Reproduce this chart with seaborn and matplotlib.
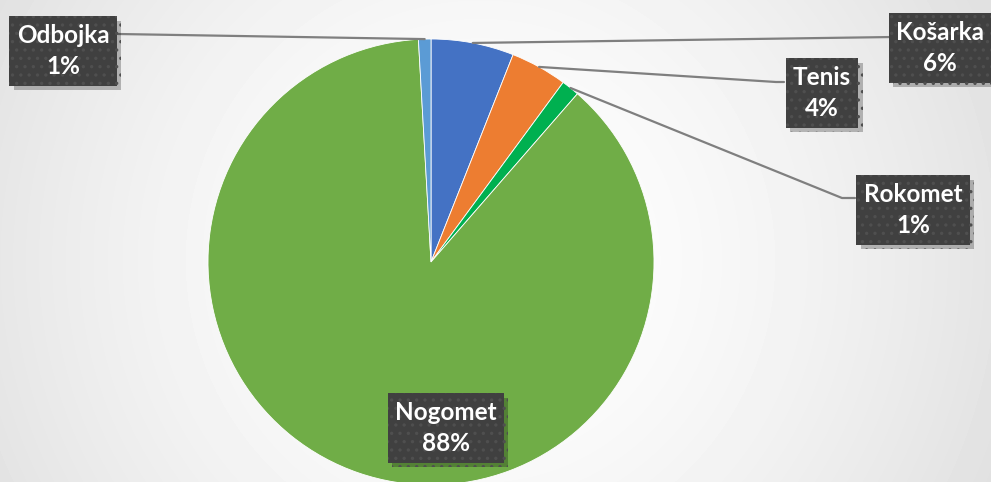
import numpy as np
import matplotlib.pyplot as plt
import matplotlib.patheffects as pe
import seaborn as sns

# data (share of respondents, %)
sports = ["Košarka", "Tenis", "Rokomet", "Nogomet", "Odbojka"]
shares = [6.0, 4.1, 1.3, 87.7, 0.9]
colors = ["#4472C4", "#ED7D31", "#00B050", "#70AD47", "#5B9BD5"]

# layout in pixels (figure is 991x482)
W, H = 991, 482
CX, CY, R = 431, 262, 223
label_pos = {"Košarka": (940, 48), "Tenis": (822, 93), "Rokomet": (913, 210),
             "Nogomet": (446, 428), "Odbojka": (63, 51)}
# leader lines: elbow point, end point at the label box
leader = {"Košarka": [(893, 37)],
          "Tenis": [(776, 82), (784, 82)],
          "Rokomet": [(842, 198), (855, 198)],
          "Odbojka": [(118, 34)]}


def px(x, y):
    return (x - CX) / R, (CY - y) / R


sns.set_theme(style="white")
plt.rcParams['font.family'] = ['Lato', 'DejaVu Sans']
plt.rcParams['hatch.linewidth'] = 1.2

fig = plt.figure(figsize=(W / 100, H / 100), dpi=100)

# soft radial background
bg = fig.add_axes([0, 0, 1, 1])
bg.axis('off')
yy, xx = np.mgrid[0:H, 0:W]
rr = np.clip(np.hypot(xx - 480, yy - 260) / 560, 0, 1)
bg.imshow(1 - 0.12 * rr ** 1.6, cmap='gray', vmin=0, vmax=1,
          extent=[0, W, H, 0], aspect='auto', interpolation='bilinear')
bg.set_xlim(0, W)
bg.set_ylim(H, 0)

ax = fig.add_axes([0, 0, 1, 1])
ax.patch.set_alpha(0)
wedges, _ = ax.pie(shares, colors=colors, startangle=90, counterclock=False,
                   radius=1, wedgeprops=dict(linewidth=0.6, edgecolor='white'))
ax.set_aspect('auto')
ax.set_xlim(-CX / R, (W - CX) / R)
ax.set_ylim(-(H - CY) / R, CY / R)
ax.axis('off')

box = dict(boxstyle='square,pad=0.3', facecolor='#404040', edgecolor='#4f4f4f',
           linewidth=0, hatch='..')

for w, name, share in zip(wedges, sports, shares):
    lx, ly = px(*label_pos[name])
    t = ax.text(lx, ly, f"{name}\n{share:.0f}%", ha='center', va='center',
                color='white', fontsize=17.5, fontweight='bold', bbox=box,
                linespacing=1.45, zorder=5)
    t.get_bbox_patch().set_path_effects([
        pe.SimplePatchShadow(offset=(3, -3), shadow_rgbFace='black', alpha=0.25),
        pe.Normal()])
    if name in leader:
        mid = np.deg2rad((w.theta1 + w.theta2) / 2)
        pts = [(np.cos(mid), np.sin(mid))] + [px(*p) for p in leader[name]]
        xs, ys = zip(*pts)
        ax.plot(xs, ys, color='#7f7f7f', lw=1.6, zorder=4)

fig.savefig('out.png', dpi=100)
